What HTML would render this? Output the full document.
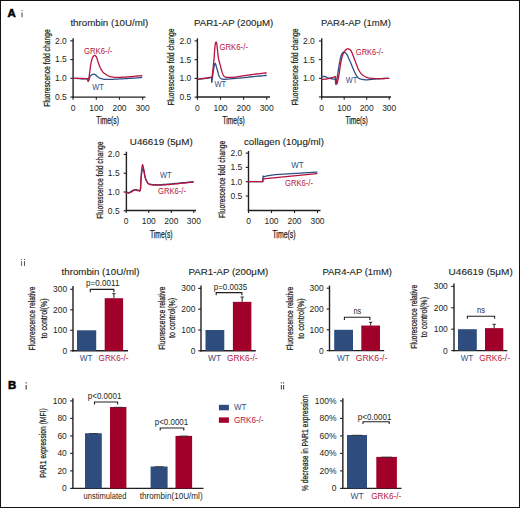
<!DOCTYPE html>
<html><head><meta charset="utf-8"><style>
html,body{margin:0;padding:0;background:#fff;}
svg{display:block;font-family:"Liberation Sans", sans-serif;}
</style></head><body>
<svg width="520" height="508" viewBox="0 0 520 508">
<rect x="0.5" y="0.5" width="519" height="507" fill="#fff" stroke="#111" stroke-width="1"/>
<text x="7.5" y="17.3" font-size="11.4" fill="#000" font-weight="bold" stroke="#000" stroke-width="0.55">A</text>
<rect x="21.4" y="10" width="1.2" height="0.9" fill="#606060"/>
<rect x="21.4" y="12.4" width="1.2" height="4.8" fill="#606060"/>
<rect x="20.95" y="258.9" width="1.1" height="1" fill="#666"/>
<rect x="20.95" y="261.2" width="1.1" height="4.7" fill="#666"/>
<rect x="23.95" y="258.9" width="1.1" height="1" fill="#555"/>
<rect x="23.95" y="261.2" width="1.1" height="4.7" fill="#555"/>
<rect x="25.6" y="382.2" width="1.2" height="1.3" fill="#4a4a4a"/>
<rect x="25.6" y="385" width="1.2" height="4.5" fill="#4a4a4a"/>
<rect x="280.85" y="382.2" width="1.1" height="1.3" fill="#555"/>
<rect x="280.85" y="385" width="1.1" height="4.5" fill="#555"/>
<rect x="283.05" y="382.2" width="1.1" height="1.3" fill="#4a4a4a"/>
<rect x="283.05" y="385" width="1.1" height="4.5" fill="#4a4a4a"/>
<text x="8.1" y="389.2" font-size="11.4" fill="#000" font-weight="bold" stroke="#000" stroke-width="0.55">B</text>
<line x1="73.1" y1="38.3" x2="73.1" y2="97.7" stroke="#231f20" stroke-width="1.4"/>
<line x1="72.4" y1="97.1" x2="145.5" y2="97.1" stroke="#231f20" stroke-width="1.4"/>
<line x1="70.3" y1="40.8" x2="73.1" y2="40.8" stroke="#231f20" stroke-width="1.1"/>
<text transform="translate(66.8,43.7) rotate(0) scale(0.9,1)" font-size="9.4" fill="#231f20" text-anchor="end">2.0</text>
<line x1="70.3" y1="59.55" x2="73.1" y2="59.55" stroke="#231f20" stroke-width="1.1"/>
<text transform="translate(66.8,62.45) rotate(0) scale(0.9,1)" font-size="9.4" fill="#231f20" text-anchor="end">1.5</text>
<line x1="70.3" y1="78.3" x2="73.1" y2="78.3" stroke="#231f20" stroke-width="1.1"/>
<text transform="translate(66.8,81.2) rotate(0) scale(0.9,1)" font-size="9.4" fill="#231f20" text-anchor="end">1.0</text>
<line x1="70.3" y1="97.05" x2="73.1" y2="97.05" stroke="#231f20" stroke-width="1.1"/>
<text transform="translate(66.8,99.95) rotate(0) scale(0.9,1)" font-size="9.4" fill="#231f20" text-anchor="end">0.5</text>
<line x1="73.1" y1="97.1" x2="73.1" y2="99.7" stroke="#231f20" stroke-width="1.1"/>
<text transform="translate(73.1,110.8) rotate(0) scale(0.9,1)" font-size="9.4" fill="#231f20" text-anchor="middle">0</text>
<line x1="96.3" y1="97.1" x2="96.3" y2="99.7" stroke="#231f20" stroke-width="1.1"/>
<text transform="translate(96.3,110.8) rotate(0) scale(0.9,1)" font-size="9.4" fill="#231f20" text-anchor="middle">100</text>
<line x1="119.5" y1="97.1" x2="119.5" y2="99.7" stroke="#231f20" stroke-width="1.1"/>
<text transform="translate(119.5,110.8) rotate(0) scale(0.9,1)" font-size="9.4" fill="#231f20" text-anchor="middle">200</text>
<line x1="142.7" y1="97.1" x2="142.7" y2="99.7" stroke="#231f20" stroke-width="1.1"/>
<text transform="translate(142.7,110.8) rotate(0) scale(0.9,1)" font-size="9.4" fill="#231f20" text-anchor="middle">300</text>
<text x="70.4" y="26.1" font-size="9.7" fill="#231f20" textLength="77.8" lengthAdjust="spacingAndGlyphs" stroke="#231f20" stroke-width="0.12">thrombin (10U/ml)</text>
<text x="96.3" y="124" font-size="10" fill="#231f20" textLength="22.6" lengthAdjust="spacingAndGlyphs" stroke="#231f20" stroke-width="0.25">Time(s)</text>
<text transform="translate(49.8,106.7) rotate(-90)" font-size="9.4" fill="#231f20" textLength="77.4" lengthAdjust="spacingAndGlyphs" stroke="#231f20" stroke-width="0.25">Fluorescence fold change</text>
<polyline points="73.1,78.3 73.61,78.32 74.32,78.34 75.15,78.37 76.05,78.4 76.93,78.44 77.74,78.49 78.47,78.54 79.18,78.61 79.88,78.69 80.58,78.76 81.29,78.82 82.01,78.86 82.79,78.88 83.64,78.89 84.49,78.89 85.3,78.88 86,78.87 86.56,78.86 86.92,78.84 87.14,78.78 87.25,78.72 87.32,78.69 87.38,78.73 87.48,78.86 87.62,79.17 87.76,79.63 87.89,80.16 88.02,80.66 88.16,81.02 88.3,81.15 88.44,81.01 88.6,80.67 88.76,80.19 88.91,79.65 89.07,79.13 89.22,78.67 89.37,78.29 89.5,77.9 89.63,77.53 89.77,77.16 89.92,76.82 90.11,76.5 90.31,76.2 90.54,75.92 90.78,75.66 91.04,75.42 91.31,75.2 91.59,75 91.89,74.81 92.2,74.64 92.53,74.49 92.87,74.36 93.19,74.27 93.49,74.21 93.77,74.19 94.04,74.21 94.29,74.25 94.55,74.33 94.81,74.44 95.09,74.59 95.39,74.78 95.69,75.02 96,75.29 96.32,75.58 96.65,75.88 97,76.16 97.35,76.45 97.72,76.74 98.09,77.04 98.48,77.33 98.88,77.61 99.29,77.85 99.72,78.06 100.15,78.26 100.6,78.43 101.06,78.59 101.53,78.73 102.01,78.86 102.48,78.98 102.94,79.09 103.41,79.19 103.92,79.27 104.47,79.33 105.09,79.39 105.78,79.43 106.51,79.45 107.3,79.46 108.14,79.46 109.03,79.45 109.99,79.42 111.03,79.39 112.16,79.34 113.34,79.28 114.55,79.22 115.76,79.15 116.95,79.09 118.11,79.03 119.27,78.97 120.43,78.9 121.59,78.84 122.75,78.78 123.91,78.71 125.07,78.65 126.24,78.58 127.4,78.51 128.57,78.44 129.72,78.37 130.87,78.3 132.03,78.23 133.22,78.17 134.41,78.1 135.55,78.03 136.63,77.96 137.6,77.89 138.49,77.8 139.33,77.71 140.1,77.62 140.78,77.53 141.35,77.45 141.77,77.4" fill="none" stroke="#2f4f87" stroke-width="1.3" stroke-linejoin="round" stroke-linecap="round"/>
<polyline points="73.1,78.3 73.61,78.3 74.32,78.29 75.15,78.29 76.05,78.29 76.93,78.29 77.74,78.3 78.47,78.32 79.18,78.35 79.88,78.38 80.58,78.42 81.28,78.45 82.01,78.49 82.8,78.52 83.65,78.55 84.52,78.58 85.33,78.61 86.05,78.64 86.6,78.67 86.96,78.68 87.17,78.66 87.28,78.64 87.33,78.64 87.38,78.71 87.48,78.86 87.62,79.22 87.75,79.77 87.88,80.38 88.01,80.9 88.15,81.21 88.3,81.15 88.45,80.66 88.62,79.85 88.79,78.81 88.97,77.66 89.14,76.49 89.29,75.41 89.44,74.39 89.58,73.34 89.72,72.28 89.85,71.22 89.98,70.18 90.11,69.19 90.23,68.23 90.34,67.3 90.46,66.39 90.57,65.5 90.7,64.63 90.85,63.79 91.02,62.95 91.2,62.12 91.4,61.31 91.61,60.54 91.81,59.82 92.01,59.17 92.2,58.6 92.38,58.09 92.56,57.64 92.75,57.23 92.94,56.87 93.14,56.55 93.36,56.26 93.58,56.02 93.8,55.82 94.03,55.66 94.26,55.56 94.49,55.5 94.72,55.49 94.95,55.54 95.19,55.63 95.42,55.76 95.64,55.95 95.86,56.17 96.06,56.45 96.25,56.77 96.44,57.14 96.62,57.56 96.81,58.01 97,58.5 97.19,59.05 97.38,59.68 97.58,60.34 97.77,61.02 97.96,61.68 98.16,62.29 98.34,62.84 98.52,63.36 98.7,63.86 98.88,64.36 99.08,64.87 99.29,65.4 99.52,65.96 99.77,66.54 100.02,67.13 100.28,67.72 100.56,68.29 100.85,68.85 101.15,69.39 101.45,69.93 101.78,70.46 102.11,70.97 102.45,71.45 102.8,71.89 103.15,72.28 103.51,72.62 103.88,72.93 104.26,73.23 104.66,73.53 105.09,73.84 105.56,74.17 106.05,74.52 106.56,74.87 107.09,75.21 107.62,75.52 108.13,75.79 108.61,76.02 109.05,76.21 109.49,76.38 109.97,76.53 110.53,76.67 111.19,76.8 111.98,76.93 112.87,77.06 113.83,77.18 114.84,77.28 115.89,77.36 116.95,77.4 118.04,77.4 119.18,77.37 120.35,77.31 121.54,77.24 122.73,77.17 123.91,77.1 125.07,77.04 126.24,76.98 127.4,76.92 128.57,76.85 129.72,76.77 130.87,76.69 132.03,76.59 133.22,76.47 134.41,76.34 135.55,76.22 136.63,76.11 137.6,76.01 138.49,75.94 139.33,75.87 140.1,75.82 140.78,75.78 141.35,75.74 141.77,75.71" fill="none" stroke="#b5123d" stroke-width="1.3" stroke-linejoin="round" stroke-linecap="round"/>
<text x="84" y="54.4" font-size="8.2" fill="#b5123d" textLength="28.4" lengthAdjust="spacingAndGlyphs">GRK6-/-</text>
<text x="92.3" y="90" font-size="8.2" fill="#2f4f87" textLength="11.6" lengthAdjust="spacingAndGlyphs">WT</text>
<line x1="197.4" y1="38.3" x2="197.4" y2="97.65" stroke="#231f20" stroke-width="1.4"/>
<line x1="196.7" y1="97.05" x2="270" y2="97.05" stroke="#231f20" stroke-width="1.4"/>
<line x1="194.6" y1="40.9" x2="197.4" y2="40.9" stroke="#231f20" stroke-width="1.1"/>
<text transform="translate(191.3,43.8) rotate(0) scale(0.9,1)" font-size="9.4" fill="#231f20" text-anchor="end">2.0</text>
<line x1="194.6" y1="59.65" x2="197.4" y2="59.65" stroke="#231f20" stroke-width="1.1"/>
<text transform="translate(191.3,62.55) rotate(0) scale(0.9,1)" font-size="9.4" fill="#231f20" text-anchor="end">1.5</text>
<line x1="194.6" y1="78.4" x2="197.4" y2="78.4" stroke="#231f20" stroke-width="1.1"/>
<text transform="translate(191.3,81.3) rotate(0) scale(0.9,1)" font-size="9.4" fill="#231f20" text-anchor="end">1.0</text>
<line x1="194.6" y1="97.15" x2="197.4" y2="97.15" stroke="#231f20" stroke-width="1.1"/>
<text transform="translate(191.3,100.05) rotate(0) scale(0.9,1)" font-size="9.4" fill="#231f20" text-anchor="end">0.5</text>
<line x1="197.4" y1="97.05" x2="197.4" y2="99.65" stroke="#231f20" stroke-width="1.1"/>
<text transform="translate(197.4,110.75) rotate(0) scale(0.9,1)" font-size="9.4" fill="#231f20" text-anchor="middle">0</text>
<line x1="220.5" y1="97.05" x2="220.5" y2="99.65" stroke="#231f20" stroke-width="1.1"/>
<text transform="translate(220.5,110.75) rotate(0) scale(0.9,1)" font-size="9.4" fill="#231f20" text-anchor="middle">100</text>
<line x1="243.6" y1="97.05" x2="243.6" y2="99.65" stroke="#231f20" stroke-width="1.1"/>
<text transform="translate(243.6,110.75) rotate(0) scale(0.9,1)" font-size="9.4" fill="#231f20" text-anchor="middle">200</text>
<line x1="266.7" y1="97.05" x2="266.7" y2="99.65" stroke="#231f20" stroke-width="1.1"/>
<text transform="translate(266.7,110.75) rotate(0) scale(0.9,1)" font-size="9.4" fill="#231f20" text-anchor="middle">300</text>
<text x="194" y="25.9" font-size="9.7" fill="#231f20" textLength="79.2" lengthAdjust="spacingAndGlyphs" stroke="#231f20" stroke-width="0.12">PAR1-AP (200μM)</text>
<text x="222.4" y="124" font-size="10" fill="#231f20" textLength="22.4" lengthAdjust="spacingAndGlyphs" stroke="#231f20" stroke-width="0.25">Time(s)</text>
<text transform="translate(173.6,105.6) rotate(-90)" font-size="9.4" fill="#231f20" textLength="77.2" lengthAdjust="spacingAndGlyphs" stroke="#231f20" stroke-width="0.25">Fluorescence fold change</text>
<polyline points="197.4,79.34 197.75,79.3 198.24,79.24 198.82,79.17 199.44,79.1 200.06,79.03 200.63,78.96 201.15,78.9 201.64,78.84 202.13,78.79 202.63,78.73 203.18,78.66 203.8,78.59 204.51,78.5 205.31,78.41 206.16,78.3 207,78.2 207.79,78.11 208.49,78.03 209.11,77.9 209.68,77.71 210.21,77.53 210.68,77.42 211.08,77.45 211.4,77.69 211.6,78.33 211.69,79.35 211.71,80.51 211.71,81.58 211.72,82.29 211.79,82.41 211.92,81.83 212.08,80.7 212.26,79.23 212.45,77.6 212.63,76.01 212.81,74.65 212.98,73.47 213.15,72.31 213.32,71.19 213.48,70.12 213.65,69.12 213.8,68.2 213.95,67.35 214.1,66.55 214.24,65.82 214.37,65.17 214.5,64.61 214.61,64.15 214.71,63.81 214.79,63.59 214.86,63.45 214.93,63.39 215.01,63.38 215.09,63.4 215.19,63.46 215.3,63.56 215.41,63.72 215.52,63.93 215.64,64.2 215.76,64.53 215.9,64.93 216.03,65.42 216.18,65.97 216.33,66.55 216.48,67.14 216.64,67.71 216.81,68.28 216.99,68.87 217.17,69.47 217.35,70.07 217.53,70.67 217.7,71.28 217.87,71.89 218.03,72.52 218.19,73.16 218.35,73.78 218.52,74.37 218.7,74.91 218.89,75.41 219.09,75.88 219.29,76.32 219.51,76.73 219.74,77.11 219.99,77.46 220.24,77.79 220.49,78.1 220.75,78.37 221.04,78.62 221.39,78.83 221.79,79 222.23,79.13 222.66,79.22 223.14,79.27 223.72,79.3 224.44,79.29 225.35,79.26 226.5,79.2 227.85,79.08 229.35,78.95 230.92,78.79 232.49,78.64 233.99,78.51 235.46,78.4 236.95,78.29 238.44,78.18 239.91,78.07 241.33,77.96 242.68,77.84 243.93,77.71 245.12,77.57 246.25,77.43 247.36,77.28 248.47,77.15 249.61,77.01 250.73,76.89 251.81,76.77 252.9,76.66 254.02,76.55 255.22,76.43 256.54,76.3 258.1,76.15 259.92,75.98 261.82,75.81 263.62,75.64 265.15,75.5 266.24,75.4" fill="none" stroke="#2f4f87" stroke-width="1.3" stroke-linejoin="round" stroke-linecap="round"/>
<polyline points="197.4,79.15 197.75,79.11 198.24,79.05 198.82,78.98 199.44,78.91 200.06,78.84 200.63,78.78 201.15,78.72 201.64,78.68 202.13,78.63 202.63,78.58 203.18,78.52 203.8,78.44 204.51,78.33 205.31,78.21 206.16,78.07 207,77.93 207.79,77.8 208.49,77.69 209.1,77.59 209.67,77.51 210.19,77.44 210.66,77.37 211.06,77.29 211.4,77.2 211.64,77.16 211.79,77.17 211.87,77.18 211.92,77.12 211.98,76.93 212.07,76.53 212.19,75.9 212.31,75.1 212.43,74.16 212.56,73.13 212.68,72.03 212.81,70.9 212.94,69.68 213.08,68.34 213.21,66.93 213.35,65.52 213.48,64.2 213.59,63.03 213.69,62.1 213.77,61.38 213.84,60.74 213.92,60.05 214,59.18 214.1,58 214.22,56.38 214.36,54.39 214.51,52.22 214.66,50.06 214.81,48.1 214.96,46.53 215.1,45.33 215.24,44.35 215.38,43.58 215.52,42.98 215.66,42.55 215.81,42.25 215.97,42.1 216.13,42.12 216.29,42.3 216.45,42.63 216.61,43.11 216.76,43.71 216.89,44.5 217.01,45.48 217.13,46.6 217.25,47.81 217.37,49.05 217.5,50.28 217.63,51.53 217.77,52.86 217.91,54.23 218.06,55.58 218.22,56.85 218.4,58 218.59,59 218.8,59.89 219.02,60.71 219.24,61.5 219.47,62.28 219.69,63.1 219.91,63.96 220.13,64.82 220.35,65.68 220.57,66.54 220.79,67.38 221.01,68.2 221.22,69.01 221.43,69.83 221.64,70.63 221.86,71.41 222.07,72.14 222.3,72.81 222.53,73.43 222.76,74.02 223,74.56 223.25,75.05 223.52,75.49 223.8,75.89 224.1,76.22 224.41,76.49 224.73,76.72 225.08,76.91 225.47,77.06 225.91,77.2 226.39,77.31 226.92,77.38 227.49,77.43 228.1,77.45 228.73,77.46 229.39,77.46 230.05,77.46 230.69,77.45 231.37,77.43 232.11,77.38 232.97,77.31 233.99,77.2 235.22,77.04 236.65,76.83 238.19,76.59 239.76,76.34 241.28,76.1 242.68,75.89 243.93,75.7 245.12,75.53 246.25,75.37 247.36,75.22 248.47,75.07 249.61,74.91 250.73,74.76 251.81,74.62 252.9,74.47 254.02,74.33 255.22,74.17 256.54,74.01 258.1,73.83 259.92,73.61 261.82,73.39 263.62,73.19 265.15,73.01 266.24,72.89" fill="none" stroke="#b5123d" stroke-width="1.3" stroke-linejoin="round" stroke-linecap="round"/>
<text x="219.4" y="50.2" font-size="8.2" fill="#b5123d" textLength="28.6" lengthAdjust="spacingAndGlyphs">GRK6-/-</text>
<text x="214.5" y="86.5" font-size="8.2" fill="#2f4f87" textLength="11.6" lengthAdjust="spacingAndGlyphs">WT</text>
<line x1="321.7" y1="38.3" x2="321.7" y2="97.65" stroke="#231f20" stroke-width="1.4"/>
<line x1="321" y1="97.05" x2="391" y2="97.05" stroke="#231f20" stroke-width="1.4"/>
<line x1="318.9" y1="41" x2="321.7" y2="41" stroke="#231f20" stroke-width="1.1"/>
<text transform="translate(314.8,43.9) rotate(0) scale(0.9,1)" font-size="9.4" fill="#231f20" text-anchor="end">2.0</text>
<line x1="318.9" y1="59.65" x2="321.7" y2="59.65" stroke="#231f20" stroke-width="1.1"/>
<text transform="translate(314.8,62.55) rotate(0) scale(0.9,1)" font-size="9.4" fill="#231f20" text-anchor="end">1.5</text>
<line x1="318.9" y1="78.3" x2="321.7" y2="78.3" stroke="#231f20" stroke-width="1.1"/>
<text transform="translate(314.8,81.2) rotate(0) scale(0.9,1)" font-size="9.4" fill="#231f20" text-anchor="end">1.0</text>
<line x1="318.9" y1="96.95" x2="321.7" y2="96.95" stroke="#231f20" stroke-width="1.1"/>
<line x1="321.7" y1="97.05" x2="321.7" y2="99.65" stroke="#231f20" stroke-width="1.1"/>
<text transform="translate(321.7,110.75) rotate(0) scale(0.9,1)" font-size="9.4" fill="#231f20" text-anchor="middle">0</text>
<line x1="344.2" y1="97.05" x2="344.2" y2="99.65" stroke="#231f20" stroke-width="1.1"/>
<text transform="translate(344.2,110.75) rotate(0) scale(0.9,1)" font-size="9.4" fill="#231f20" text-anchor="middle">100</text>
<line x1="366.7" y1="97.05" x2="366.7" y2="99.65" stroke="#231f20" stroke-width="1.1"/>
<text transform="translate(366.7,110.75) rotate(0) scale(0.9,1)" font-size="9.4" fill="#231f20" text-anchor="middle">200</text>
<line x1="389.2" y1="97.05" x2="389.2" y2="99.65" stroke="#231f20" stroke-width="1.1"/>
<text transform="translate(389.2,110.75) rotate(0) scale(0.9,1)" font-size="9.4" fill="#231f20" text-anchor="middle">300</text>
<text x="321" y="25.9" font-size="9.7" fill="#231f20" textLength="69.8" lengthAdjust="spacingAndGlyphs" stroke="#231f20" stroke-width="0.12">PAR4-AP (1mM)</text>
<text x="345.4" y="124" font-size="10" fill="#231f20" textLength="22.4" lengthAdjust="spacingAndGlyphs" stroke="#231f20" stroke-width="0.25">Time(s)</text>
<text transform="translate(297.9,105.6) rotate(-90)" font-size="9.4" fill="#231f20" textLength="77.2" lengthAdjust="spacingAndGlyphs" stroke="#231f20" stroke-width="0.25">Fluorescence fold change</text>
<polyline points="321.7,77.18 321.99,77.08 322.39,76.92 322.87,76.74 323.38,76.57 323.91,76.46 324.4,76.44 324.86,76.51 325.3,76.66 325.75,76.87 326.22,77.1 326.74,77.34 327.32,77.55 328,77.77 328.77,78.02 329.58,78.27 330.39,78.5 331.15,78.7 331.82,78.86 332.42,78.96 332.97,79.01 333.48,79.03 333.93,79.04 334.32,79.04 334.64,79.05 334.86,78.99 334.99,78.85 335.05,78.71 335.08,78.64 335.12,78.72 335.2,79.05 335.31,79.77 335.43,80.87 335.55,82.12 335.68,83.31 335.81,84.23 335.94,84.64 336.07,84.49 336.21,83.95 336.35,83.12 336.49,82.13 336.63,81.11 336.77,80.16 336.92,79.3 337.07,78.42 337.22,77.5 337.37,76.52 337.54,75.46 337.72,74.31 337.91,73.02 338.11,71.62 338.33,70.13 338.55,68.61 338.78,67.09 339.02,65.62 339.28,64.13 339.56,62.58 339.84,61.03 340.14,59.55 340.43,58.2 340.71,57.04 340.99,56.08 341.27,55.27 341.55,54.58 341.83,54.01 342.11,53.51 342.4,53.09 342.68,52.72 342.96,52.44 343.24,52.25 343.54,52.14 343.85,52.12 344.2,52.19 344.59,52.35 345.01,52.59 345.45,52.93 345.9,53.34 346.35,53.85 346.79,54.43 347.21,55.12 347.62,55.92 348.04,56.81 348.45,57.74 348.87,58.7 349.28,59.65 349.71,60.6 350.13,61.58 350.56,62.58 350.99,63.59 351.42,64.61 351.85,65.62 352.28,66.64 352.72,67.68 353.15,68.73 353.59,69.76 354.03,70.76 354.46,71.7 354.89,72.6 355.32,73.49 355.74,74.35 356.17,75.15 356.6,75.88 357.02,76.51 357.45,77.04 357.86,77.48 358.27,77.84 358.7,78.15 359.15,78.42 359.63,78.67 360.16,78.89 360.72,79.06 361.31,79.19 361.91,79.3 362.51,79.4 363.1,79.49 363.68,79.6 364.27,79.69 364.86,79.78 365.45,79.84 366.03,79.89 366.61,79.9 367.13,79.89 367.57,79.84 368.02,79.76 368.52,79.68 369.16,79.58 369.99,79.49 371.01,79.4 372.19,79.3 373.5,79.19 374.91,79.07 376.41,78.96 377.95,78.86 379.71,78.76 381.74,78.65 383.85,78.54 385.84,78.44 387.54,78.36 388.75,78.3" fill="none" stroke="#2f4f87" stroke-width="1.3" stroke-linejoin="round" stroke-linecap="round"/>
<polyline points="321.7,79.42 322.32,79.37 323.17,79.3 324.19,79.22 325.27,79.12 326.35,79 327.32,78.86 328.24,78.68 329.18,78.46 330.11,78.22 330.99,77.98 331.8,77.75 332.5,77.55 333.09,77.38 333.6,77.22 334.03,77.08 334.39,76.95 334.7,76.86 334.97,76.81 335.17,76.73 335.28,76.62 335.33,76.54 335.37,76.56 335.43,76.75 335.54,77.18 335.71,78.03 335.9,79.27 336.12,80.69 336.35,82.05 336.57,83.13 336.77,83.71 336.97,83.73 337.16,83.36 337.34,82.71 337.53,81.89 337.71,81.01 337.9,80.16 338.09,79.36 338.27,78.49 338.45,77.56 338.64,76.56 338.83,75.48 339.02,74.31 339.23,73 339.44,71.56 339.65,70.03 339.87,68.49 340.09,67 340.31,65.62 340.52,64.34 340.73,63.12 340.93,61.95 341.15,60.83 341.37,59.75 341.61,58.72 341.87,57.73 342.13,56.78 342.4,55.89 342.69,55.04 342.98,54.24 343.3,53.5 343.63,52.8 343.99,52.15 344.35,51.55 344.73,51.01 345.12,50.52 345.5,50.1 345.89,49.73 346.29,49.4 346.69,49.13 347.1,48.93 347.53,48.83 347.98,48.83 348.46,48.94 348.98,49.12 349.51,49.39 350.05,49.77 350.57,50.27 351.06,50.88 351.52,51.66 351.96,52.61 352.39,53.66 352.81,54.78 353.22,55.92 353.65,57.04 354.08,58.15 354.51,59.3 354.94,60.47 355.37,61.64 355.81,62.79 356.24,63.9 356.66,64.99 357.07,66.08 357.48,67.14 357.9,68.17 358.35,69.16 358.82,70.09 359.33,70.97 359.85,71.82 360.4,72.61 360.97,73.36 361.57,74.05 362.2,74.68 362.89,75.25 363.63,75.76 364.41,76.22 365.18,76.62 365.92,76.98 366.61,77.29 367.18,77.55 367.64,77.73 368.08,77.87 368.56,77.98 369.17,78.08 369.99,78.19 371.01,78.3 372.19,78.41 373.5,78.51 374.91,78.59 376.41,78.65 377.95,78.67 379.71,78.66 381.74,78.6 383.85,78.52 385.84,78.43 387.54,78.35 388.75,78.3" fill="none" stroke="#b5123d" stroke-width="1.3" stroke-linejoin="round" stroke-linecap="round"/>
<text x="355.8" y="55.1" font-size="8.2" fill="#b5123d" textLength="27.6" lengthAdjust="spacingAndGlyphs">GRK6-/-</text>
<text x="345.8" y="83" font-size="8.2" fill="#2f4f87" textLength="11.4" lengthAdjust="spacingAndGlyphs">WT</text>
<line x1="126.4" y1="151.7" x2="126.4" y2="211.05" stroke="#231f20" stroke-width="1.4"/>
<line x1="125.7" y1="210.45" x2="196" y2="210.45" stroke="#231f20" stroke-width="1.4"/>
<line x1="123.6" y1="154.5" x2="126.4" y2="154.5" stroke="#231f20" stroke-width="1.1"/>
<text transform="translate(119.6,157.4) rotate(0) scale(0.9,1)" font-size="9.4" fill="#231f20" text-anchor="end">2.0</text>
<line x1="123.6" y1="173.25" x2="126.4" y2="173.25" stroke="#231f20" stroke-width="1.1"/>
<text transform="translate(119.6,176.15) rotate(0) scale(0.9,1)" font-size="9.4" fill="#231f20" text-anchor="end">1.5</text>
<line x1="123.6" y1="192" x2="126.4" y2="192" stroke="#231f20" stroke-width="1.1"/>
<text transform="translate(119.6,194.9) rotate(0) scale(0.9,1)" font-size="9.4" fill="#231f20" text-anchor="end">1.0</text>
<line x1="123.6" y1="210.75" x2="126.4" y2="210.75" stroke="#231f20" stroke-width="1.1"/>
<text transform="translate(119.6,213.65) rotate(0) scale(0.9,1)" font-size="9.4" fill="#231f20" text-anchor="end">0.5</text>
<line x1="126.2" y1="210.45" x2="126.2" y2="213.05" stroke="#231f20" stroke-width="1.1"/>
<text transform="translate(126.2,224.15) rotate(0) scale(0.9,1)" font-size="9.4" fill="#231f20" text-anchor="middle">0</text>
<line x1="148.75" y1="210.45" x2="148.75" y2="213.05" stroke="#231f20" stroke-width="1.1"/>
<text transform="translate(148.75,224.15) rotate(0) scale(0.9,1)" font-size="9.4" fill="#231f20" text-anchor="middle">100</text>
<line x1="171.3" y1="210.45" x2="171.3" y2="213.05" stroke="#231f20" stroke-width="1.1"/>
<text transform="translate(171.3,224.15) rotate(0) scale(0.9,1)" font-size="9.4" fill="#231f20" text-anchor="middle">200</text>
<line x1="193.85" y1="210.45" x2="193.85" y2="213.05" stroke="#231f20" stroke-width="1.1"/>
<text transform="translate(193.85,224.15) rotate(0) scale(0.9,1)" font-size="9.4" fill="#231f20" text-anchor="middle">300</text>
<text x="129.8" y="144.9" font-size="9.7" fill="#231f20" textLength="62.9" lengthAdjust="spacingAndGlyphs" stroke="#231f20" stroke-width="0.12">U46619 (5μM)</text>
<text x="150" y="237.6" font-size="10" fill="#231f20" textLength="22.6" lengthAdjust="spacingAndGlyphs" stroke="#231f20" stroke-width="0.25">Time(s)</text>
<text transform="translate(102.7,218.8) rotate(-90)" font-size="9.4" fill="#231f20" textLength="77.2" lengthAdjust="spacingAndGlyphs" stroke="#231f20" stroke-width="0.25">Fluorescence fold change</text>
<polyline points="126.2,192.11 126.27,192.12 126.35,192.12 126.45,192.13 126.58,192.14 126.74,192.16 126.94,192.19 127.19,192.25 127.48,192.35 127.81,192.45 128.16,192.54 128.52,192.59 128.88,192.56 129.26,192.46 129.66,192.3 130.06,192.09 130.48,191.86 130.89,191.62 131.3,191.4 131.69,191.17 132.08,190.92 132.47,190.66 132.86,190.41 133.25,190.19 133.64,190.01 134.03,189.88 134.42,189.78 134.81,189.7 135.2,189.65 135.59,189.63 135.99,189.64 136.39,189.69 136.8,189.8 137.21,189.93 137.62,190.07 138.01,190.18 138.38,190.24 138.74,190.32 139.09,190.46 139.44,190.58 139.76,190.59 140.04,190.4 140.27,189.94 140.44,189.13 140.56,188.03 140.64,186.73 140.71,185.34 140.77,183.94 140.86,182.62 140.95,181.37 141.04,180.09 141.13,178.8 141.23,177.53 141.34,176.3 141.47,175.12 141.61,173.93 141.77,172.68 141.94,171.48 142.12,170.4 142.31,169.55 142.5,169.01 142.71,168.83 142.94,168.93 143.17,169.26 143.41,169.75 143.64,170.35 143.86,171 144.06,171.77 144.25,172.72 144.44,173.78 144.63,174.87 144.83,175.9 145.05,176.81 145.29,177.6 145.53,178.33 145.78,179.02 146.05,179.65 146.32,180.26 146.61,180.82 146.89,181.37 147.18,181.88 147.48,182.35 147.8,182.78 148.15,183.16 148.55,183.49 148.99,183.75 149.47,183.95 149.99,184.11 150.53,184.23 151.1,184.33 151.68,184.43 152.29,184.51 152.92,184.56 153.57,184.59 154.24,184.61 154.93,184.63 155.63,184.65 156.27,184.68 156.84,184.72 157.42,184.76 158.1,184.78 158.97,184.77 160.12,184.72 161.59,184.64 163.34,184.52 165.28,184.37 167.32,184.2 169.35,184.03 171.3,183.86 173.18,183.69 175.08,183.5 176.97,183.31 178.86,183.11 180.73,182.92 182.57,182.74 184.5,182.55 186.55,182.35 188.58,182.16 190.45,181.98 192.03,181.83 193.17,181.72" fill="none" stroke="#2f4f87" stroke-width="1.3" stroke-linejoin="round" stroke-linecap="round"/>
<polyline points="126.2,192.56 126.27,192.57 126.35,192.57 126.45,192.58 126.58,192.59 126.74,192.61 126.94,192.64 127.19,192.7 127.48,192.8 127.81,192.9 128.16,192.99 128.52,193.04 128.88,193.01 129.26,192.91 129.66,192.75 130.06,192.54 130.48,192.31 130.89,192.07 131.3,191.85 131.69,191.62 132.08,191.37 132.47,191.11 132.86,190.86 133.25,190.64 133.64,190.46 134.03,190.33 134.42,190.23 134.81,190.15 135.2,190.1 135.59,190.08 135.99,190.09 136.39,190.14 136.8,190.25 137.21,190.39 137.62,190.52 138.01,190.63 138.38,190.69 138.74,190.78 139.09,190.94 139.44,191.08 139.76,191.09 140.04,190.87 140.27,190.31 140.44,189.35 140.56,188.06 140.64,186.53 140.71,184.87 140.77,183.2 140.86,181.61 140.95,180.06 141.04,178.46 141.13,176.83 141.23,175.22 141.34,173.67 141.47,172.2 141.61,170.69 141.77,169.09 141.94,167.54 142.12,166.2 142.31,165.2 142.5,164.7 142.71,164.8 142.94,165.39 143.17,166.34 143.41,167.49 143.64,168.69 143.86,169.8 144.06,170.9 144.25,172.12 144.44,173.39 144.63,174.66 144.83,175.84 145.05,176.89 145.29,177.79 145.53,178.59 145.78,179.32 146.05,179.98 146.32,180.6 146.61,181.2 146.89,181.77 147.18,182.3 147.48,182.78 147.8,183.22 148.15,183.6 148.55,183.94 148.99,184.21 149.47,184.41 149.99,184.56 150.53,184.68 151.1,184.78 151.68,184.88 152.29,184.96 152.92,185.01 153.57,185.04 154.24,185.06 154.93,185.08 155.63,185.1 156.27,185.13 156.84,185.17 157.42,185.21 158.1,185.22 158.97,185.22 160.12,185.18 161.59,185.09 163.34,184.97 165.28,184.82 167.32,184.65 169.35,184.48 171.3,184.31 173.18,184.14 175.08,183.95 176.97,183.76 178.86,183.56 180.73,183.37 182.57,183.19 184.5,183 186.55,182.8 188.58,182.61 190.45,182.43 192.03,182.28 193.17,182.18" fill="none" stroke="#b5123d" stroke-width="1.3" stroke-linejoin="round" stroke-linecap="round"/>
<text x="158" y="193.6" font-size="8.2" fill="#b5123d" textLength="28" lengthAdjust="spacingAndGlyphs">GRK6-/-</text>
<text x="160" y="178.2" font-size="8.2" fill="#2f4f87" textLength="11.6" lengthAdjust="spacingAndGlyphs">WT</text>
<line x1="248.5" y1="151" x2="248.5" y2="211.05" stroke="#231f20" stroke-width="1.4"/>
<line x1="247.8" y1="210.45" x2="320.5" y2="210.45" stroke="#231f20" stroke-width="1.4"/>
<line x1="245.7" y1="153.1" x2="248.5" y2="153.1" stroke="#231f20" stroke-width="1.1"/>
<text transform="translate(242.2,156) rotate(0) scale(0.9,1)" font-size="9.4" fill="#231f20" text-anchor="end">2.0</text>
<line x1="245.7" y1="167.4" x2="248.5" y2="167.4" stroke="#231f20" stroke-width="1.1"/>
<text transform="translate(242.2,170.3) rotate(0) scale(0.9,1)" font-size="9.4" fill="#231f20" text-anchor="end">1.5</text>
<line x1="245.7" y1="181.7" x2="248.5" y2="181.7" stroke="#231f20" stroke-width="1.1"/>
<text transform="translate(242.2,184.6) rotate(0) scale(0.9,1)" font-size="9.4" fill="#231f20" text-anchor="end">1.0</text>
<line x1="245.7" y1="196" x2="248.5" y2="196" stroke="#231f20" stroke-width="1.1"/>
<text transform="translate(242.2,198.9) rotate(0) scale(0.9,1)" font-size="9.4" fill="#231f20" text-anchor="end">0.5</text>
<line x1="248.5" y1="210.45" x2="248.5" y2="213.05" stroke="#231f20" stroke-width="1.1"/>
<text transform="translate(248.5,224.15) rotate(0) scale(0.9,1)" font-size="9.4" fill="#231f20" text-anchor="middle">0</text>
<line x1="271.5" y1="210.45" x2="271.5" y2="213.05" stroke="#231f20" stroke-width="1.1"/>
<text transform="translate(271.5,224.15) rotate(0) scale(0.9,1)" font-size="9.4" fill="#231f20" text-anchor="middle">100</text>
<line x1="294.5" y1="210.45" x2="294.5" y2="213.05" stroke="#231f20" stroke-width="1.1"/>
<text transform="translate(294.5,224.15) rotate(0) scale(0.9,1)" font-size="9.4" fill="#231f20" text-anchor="middle">200</text>
<line x1="317.5" y1="210.45" x2="317.5" y2="213.05" stroke="#231f20" stroke-width="1.1"/>
<text transform="translate(317.5,224.15) rotate(0) scale(0.9,1)" font-size="9.4" fill="#231f20" text-anchor="middle">300</text>
<text x="244" y="144.7" font-size="9.7" fill="#231f20" textLength="80" lengthAdjust="spacingAndGlyphs" stroke="#231f20" stroke-width="0.12">collagen (10μg/ml)</text>
<text x="272.4" y="237.6" font-size="10" fill="#231f20" textLength="23.2" lengthAdjust="spacingAndGlyphs" stroke="#231f20" stroke-width="0.25">Time(s)</text>
<text transform="translate(224.6,217.9) rotate(-90)" font-size="9.4" fill="#231f20" textLength="77.2" lengthAdjust="spacingAndGlyphs" stroke="#231f20" stroke-width="0.25">Fluorescence fold change</text>
<polyline points="248.5,181.7 262.76,181.7 263.04,175.98 263.45,176.84 266.9,175.98 275.3,174.69 316.81,172.2" fill="none" stroke="#2f4f87" stroke-width="1.3" stroke-linejoin="round" stroke-linecap="round"/>
<polyline points="248.5,181.7 262.76,181.7 263.11,178.84 316.81,173.69" fill="none" stroke="#b5123d" stroke-width="1.3" stroke-linejoin="round" stroke-linecap="round"/>
<text x="285" y="185.6" font-size="8.2" fill="#b5123d" textLength="28" lengthAdjust="spacingAndGlyphs">GRK6-/-</text>
<text x="291.3" y="167.5" font-size="8.2" fill="#2f4f87" textLength="12.4" lengthAdjust="spacingAndGlyphs">WT</text>
<line x1="73" y1="286" x2="73" y2="351.4" stroke="#231f20" stroke-width="1.4"/>
<line x1="72.3" y1="350.8" x2="128" y2="350.8" stroke="#231f20" stroke-width="1.4"/>
<line x1="70.2" y1="350.8" x2="73" y2="350.8" stroke="#231f20" stroke-width="1.1"/>
<text transform="translate(67.2,353.7) rotate(0) scale(0.9,1)" font-size="9.4" fill="#231f20" text-anchor="end">0</text>
<line x1="70.2" y1="330.3" x2="73" y2="330.3" stroke="#231f20" stroke-width="1.1"/>
<text transform="translate(67.2,333.2) rotate(0) scale(0.9,1)" font-size="9.4" fill="#231f20" text-anchor="end">100</text>
<line x1="70.2" y1="309.8" x2="73" y2="309.8" stroke="#231f20" stroke-width="1.1"/>
<text transform="translate(67.2,312.7) rotate(0) scale(0.9,1)" font-size="9.4" fill="#231f20" text-anchor="end">200</text>
<line x1="70.2" y1="289.3" x2="73" y2="289.3" stroke="#231f20" stroke-width="1.1"/>
<text transform="translate(67.2,292.2) rotate(0) scale(0.9,1)" font-size="9.4" fill="#231f20" text-anchor="end">300</text>
<rect x="77" y="330.3" width="19.2" height="20.5" fill="#2e4c7e"/>
<rect x="104.7" y="298.2" width="18.4" height="52.6" fill="#a1002a"/>
<line x1="113.9" y1="298.2" x2="113.9" y2="293.69" stroke="#231f20" stroke-width="1"/>
<line x1="112.3" y1="293.69" x2="115.5" y2="293.69" stroke="#231f20" stroke-width="1"/>
<polyline points="90.3,292.2 90.3,289.4 113.9,289.4 113.9,292.2" fill="none" stroke="#231f20" stroke-width="1.1"/>
<text x="86" y="286.2" font-size="8.8" fill="#231f20" textLength="33.4" lengthAdjust="spacingAndGlyphs">p=0.0011</text>
<text x="61.6" y="274.9" font-size="9.7" fill="#231f20" textLength="77.8" lengthAdjust="spacingAndGlyphs" stroke="#231f20" stroke-width="0.12">thrombin (10U/ml)</text>
<text x="79.8" y="360.6" font-size="8.6" fill="#2f4f87" textLength="12.8" lengthAdjust="spacingAndGlyphs">WT</text>
<text x="98.6" y="360.6" font-size="8.6" fill="#b5123d" textLength="29.8" lengthAdjust="spacingAndGlyphs">GRK6-/-</text>
<text transform="translate(35.1,350.4) rotate(-90)" font-size="9.4" fill="#231f20" textLength="63.8" lengthAdjust="spacingAndGlyphs" stroke="#231f20" stroke-width="0.25">Fluorescence relative</text>
<text transform="translate(46.5,338.4) rotate(-90)" font-size="8.9" fill="#231f20" textLength="40" lengthAdjust="spacingAndGlyphs" stroke="#231f20" stroke-width="0.25">to control(%)</text>
<line x1="201" y1="285.5" x2="201" y2="351.4" stroke="#231f20" stroke-width="1.4"/>
<line x1="200.3" y1="350.8" x2="255.8" y2="350.8" stroke="#231f20" stroke-width="1.4"/>
<line x1="198.2" y1="350.8" x2="201" y2="350.8" stroke="#231f20" stroke-width="1.1"/>
<text transform="translate(195.4,353.7) rotate(0) scale(0.9,1)" font-size="9.4" fill="#231f20" text-anchor="end">0</text>
<line x1="198.2" y1="330" x2="201" y2="330" stroke="#231f20" stroke-width="1.1"/>
<text transform="translate(195.4,332.9) rotate(0) scale(0.9,1)" font-size="9.4" fill="#231f20" text-anchor="end">100</text>
<line x1="198.2" y1="309.2" x2="201" y2="309.2" stroke="#231f20" stroke-width="1.1"/>
<text transform="translate(195.4,312.1) rotate(0) scale(0.9,1)" font-size="9.4" fill="#231f20" text-anchor="end">200</text>
<line x1="198.2" y1="288.4" x2="201" y2="288.4" stroke="#231f20" stroke-width="1.1"/>
<text transform="translate(195.4,291.3) rotate(0) scale(0.9,1)" font-size="9.4" fill="#231f20" text-anchor="end">300</text>
<rect x="205.5" y="330" width="18.8" height="20.8" fill="#2e4c7e"/>
<rect x="232.9" y="301.86" width="18.5" height="48.94" fill="#a1002a"/>
<line x1="242.15" y1="301.86" x2="242.15" y2="297.07" stroke="#231f20" stroke-width="1"/>
<line x1="240.55" y1="297.07" x2="243.75" y2="297.07" stroke="#231f20" stroke-width="1"/>
<polyline points="216.2,295.3 216.2,292.6 241.9,292.6 241.9,295.3" fill="none" stroke="#231f20" stroke-width="1.1"/>
<text x="213.8" y="290.1" font-size="8.8" fill="#231f20" textLength="33.4" lengthAdjust="spacingAndGlyphs">p=0.0035</text>
<text x="188.6" y="274.7" font-size="9.7" fill="#231f20" textLength="79.6" lengthAdjust="spacingAndGlyphs" stroke="#231f20" stroke-width="0.12">PAR1-AP (200μM)</text>
<text x="208" y="360.6" font-size="8.6" fill="#2f4f87" textLength="13.2" lengthAdjust="spacingAndGlyphs">WT</text>
<text x="227" y="360.6" font-size="8.6" fill="#b5123d" textLength="30.6" lengthAdjust="spacingAndGlyphs">GRK6-/-</text>
<text transform="translate(165,349.8) rotate(-90)" font-size="9.4" fill="#231f20" textLength="63.2" lengthAdjust="spacingAndGlyphs" stroke="#231f20" stroke-width="0.25">Fluorescence relative</text>
<text transform="translate(174.8,338) rotate(-90)" font-size="8.9" fill="#231f20" textLength="40.2" lengthAdjust="spacingAndGlyphs" stroke="#231f20" stroke-width="0.25">to control(%)</text>
<line x1="329.5" y1="285.6" x2="329.5" y2="351.2" stroke="#231f20" stroke-width="1.4"/>
<line x1="328.8" y1="350.6" x2="384.2" y2="350.6" stroke="#231f20" stroke-width="1.4"/>
<line x1="326.7" y1="350.6" x2="329.5" y2="350.6" stroke="#231f20" stroke-width="1.1"/>
<text transform="translate(323.6,353.5) rotate(0) scale(0.9,1)" font-size="9.4" fill="#231f20" text-anchor="end">0</text>
<line x1="326.7" y1="329.8" x2="329.5" y2="329.8" stroke="#231f20" stroke-width="1.1"/>
<text transform="translate(323.6,332.7) rotate(0) scale(0.9,1)" font-size="9.4" fill="#231f20" text-anchor="end">100</text>
<line x1="326.7" y1="309" x2="329.5" y2="309" stroke="#231f20" stroke-width="1.1"/>
<text transform="translate(323.6,311.9) rotate(0) scale(0.9,1)" font-size="9.4" fill="#231f20" text-anchor="end">200</text>
<line x1="326.7" y1="288.2" x2="329.5" y2="288.2" stroke="#231f20" stroke-width="1.1"/>
<text transform="translate(323.6,291.1) rotate(0) scale(0.9,1)" font-size="9.4" fill="#231f20" text-anchor="end">300</text>
<rect x="334.2" y="329.8" width="18.8" height="20.8" fill="#2e4c7e"/>
<rect x="361.3" y="325.56" width="18.7" height="25.04" fill="#a1002a"/>
<line x1="370.65" y1="325.56" x2="370.65" y2="322.31" stroke="#231f20" stroke-width="1"/>
<line x1="369.05" y1="322.31" x2="372.25" y2="322.31" stroke="#231f20" stroke-width="1"/>
<polyline points="344.4,320.1 344.4,317.3 369.9,317.3 369.9,320.1" fill="none" stroke="#231f20" stroke-width="1.1"/>
<text x="353.5" y="314.4" font-size="8.2" fill="#231f20" textLength="7.8" lengthAdjust="spacingAndGlyphs">ns</text>
<text x="322.4" y="275.3" font-size="9.7" fill="#231f20" textLength="69.6" lengthAdjust="spacingAndGlyphs" stroke="#231f20" stroke-width="0.12">PAR4-AP (1mM)</text>
<text x="336.9" y="360.6" font-size="8.6" fill="#2f4f87" textLength="12.8" lengthAdjust="spacingAndGlyphs">WT</text>
<text x="355.7" y="360.6" font-size="8.6" fill="#b5123d" textLength="31.6" lengthAdjust="spacingAndGlyphs">GRK6-/-</text>
<text transform="translate(292.6,350.3) rotate(-90)" font-size="9.4" fill="#231f20" textLength="63.5" lengthAdjust="spacingAndGlyphs" stroke="#231f20" stroke-width="0.25">Fluorescence relative</text>
<text transform="translate(304,338.8) rotate(-90)" font-size="8.9" fill="#231f20" textLength="40.5" lengthAdjust="spacingAndGlyphs" stroke="#231f20" stroke-width="0.25">to control(%)</text>
<line x1="454" y1="283.6" x2="454" y2="351.2" stroke="#231f20" stroke-width="1.4"/>
<line x1="453.3" y1="350.6" x2="507.3" y2="350.6" stroke="#231f20" stroke-width="1.4"/>
<line x1="451.2" y1="350.6" x2="454" y2="350.6" stroke="#231f20" stroke-width="1.1"/>
<text transform="translate(447.8,353.5) rotate(0) scale(0.9,1)" font-size="9.4" fill="#231f20" text-anchor="end">0</text>
<line x1="451.2" y1="329.2" x2="454" y2="329.2" stroke="#231f20" stroke-width="1.1"/>
<text transform="translate(447.8,332.1) rotate(0) scale(0.9,1)" font-size="9.4" fill="#231f20" text-anchor="end">100</text>
<line x1="451.2" y1="307.8" x2="454" y2="307.8" stroke="#231f20" stroke-width="1.1"/>
<text transform="translate(447.8,310.7) rotate(0) scale(0.9,1)" font-size="9.4" fill="#231f20" text-anchor="end">200</text>
<line x1="451.2" y1="286.4" x2="454" y2="286.4" stroke="#231f20" stroke-width="1.1"/>
<text transform="translate(447.8,289.3) rotate(0) scale(0.9,1)" font-size="9.4" fill="#231f20" text-anchor="end">300</text>
<rect x="458" y="329.2" width="18.8" height="21.4" fill="#2e4c7e"/>
<rect x="485" y="328.13" width="18.3" height="22.47" fill="#a1002a"/>
<line x1="494.15" y1="328.13" x2="494.15" y2="324.34" stroke="#231f20" stroke-width="1"/>
<line x1="492.55" y1="324.34" x2="495.75" y2="324.34" stroke="#231f20" stroke-width="1"/>
<polyline points="467.4,318.7 467.4,316.2 494.6,316.2 494.6,318.7" fill="none" stroke="#231f20" stroke-width="1.1"/>
<text x="477" y="312.9" font-size="8.2" fill="#231f20" textLength="7.9" lengthAdjust="spacingAndGlyphs">ns</text>
<text x="448.6" y="274.9" font-size="9.7" fill="#231f20" textLength="64.2" lengthAdjust="spacingAndGlyphs" stroke="#231f20" stroke-width="0.12">U46619 (5μM)</text>
<text x="460.7" y="360.6" font-size="8.6" fill="#2f4f87" textLength="12.6" lengthAdjust="spacingAndGlyphs">WT</text>
<text x="479.2" y="360.6" font-size="8.6" fill="#b5123d" textLength="30.8" lengthAdjust="spacingAndGlyphs">GRK6-/-</text>
<text transform="translate(416.8,348.7) rotate(-90)" font-size="9.4" fill="#231f20" textLength="63.9" lengthAdjust="spacingAndGlyphs" stroke="#231f20" stroke-width="0.25">Fluorescence relative</text>
<text transform="translate(427.4,337.2) rotate(-90)" font-size="8.9" fill="#231f20" textLength="40.2" lengthAdjust="spacingAndGlyphs" stroke="#231f20" stroke-width="0.25">to control(%)</text>
<line x1="72.9" y1="398.2" x2="72.9" y2="489" stroke="#231f20" stroke-width="1.4"/>
<line x1="72.2" y1="488.4" x2="203.5" y2="488.4" stroke="#231f20" stroke-width="1.4"/>
<line x1="70.1" y1="488.4" x2="72.9" y2="488.4" stroke="#231f20" stroke-width="1.1"/>
<text transform="translate(66.8,491.3) rotate(0) scale(0.9,1)" font-size="9.4" fill="#231f20" text-anchor="end">0</text>
<line x1="70.1" y1="470.9" x2="72.9" y2="470.9" stroke="#231f20" stroke-width="1.1"/>
<text transform="translate(66.8,473.8) rotate(0) scale(0.9,1)" font-size="9.4" fill="#231f20" text-anchor="end">20</text>
<line x1="70.1" y1="453.4" x2="72.9" y2="453.4" stroke="#231f20" stroke-width="1.1"/>
<text transform="translate(66.8,456.3) rotate(0) scale(0.9,1)" font-size="9.4" fill="#231f20" text-anchor="end">40</text>
<line x1="70.1" y1="435.9" x2="72.9" y2="435.9" stroke="#231f20" stroke-width="1.1"/>
<text transform="translate(66.8,438.8) rotate(0) scale(0.9,1)" font-size="9.4" fill="#231f20" text-anchor="end">60</text>
<line x1="70.1" y1="418.4" x2="72.9" y2="418.4" stroke="#231f20" stroke-width="1.1"/>
<text transform="translate(66.8,421.3) rotate(0) scale(0.9,1)" font-size="9.4" fill="#231f20" text-anchor="end">80</text>
<line x1="70.1" y1="400.9" x2="72.9" y2="400.9" stroke="#231f20" stroke-width="1.1"/>
<text transform="translate(66.8,403.8) rotate(0) scale(0.9,1)" font-size="9.4" fill="#231f20" text-anchor="end">100</text>
<rect x="85" y="433.27" width="16.8" height="55.12" fill="#2e4c7e"/>
<line x1="89.03" y1="433.57" x2="97.77" y2="433.57" stroke="#333" stroke-width="1"/>
<rect x="110" y="407.02" width="16.4" height="81.38" fill="#a1002a"/>
<line x1="113.94" y1="407.32" x2="122.46" y2="407.32" stroke="#333" stroke-width="1"/>
<rect x="150.6" y="466.52" width="17" height="21.88" fill="#2e4c7e"/>
<line x1="154.68" y1="466.82" x2="163.52" y2="466.82" stroke="#333" stroke-width="1"/>
<rect x="175.5" y="435.9" width="16.6" height="52.5" fill="#a1002a"/>
<line x1="179.48" y1="436.2" x2="188.12" y2="436.2" stroke="#333" stroke-width="1"/>
<polyline points="94.5,404.4 94.5,402 117.6,402 117.6,404.4" fill="none" stroke="#231f20" stroke-width="1.1"/>
<polyline points="160.2,430.6 160.2,428 183.8,428 183.8,430.6" fill="none" stroke="#231f20" stroke-width="1.1"/>
<text x="87.8" y="399.3" font-size="8.8" fill="#231f20" textLength="33.6" lengthAdjust="spacingAndGlyphs">p&lt;0.0001</text>
<text x="154.8" y="425" font-size="8.8" fill="#231f20" textLength="33.4" lengthAdjust="spacingAndGlyphs">p&lt;0.0001</text>
<text x="83.6" y="498.8" font-size="8.4" fill="#231f20" textLength="42.8" lengthAdjust="spacingAndGlyphs">unstimulated</text>
<text x="139.8" y="498.8" font-size="8.4" fill="#231f20" textLength="62.8" lengthAdjust="spacingAndGlyphs">thrombin(10U/ml)</text>
<text transform="translate(46,477.7) rotate(-90)" font-size="9.4" fill="#231f20" textLength="69.4" lengthAdjust="spacingAndGlyphs" stroke="#231f20" stroke-width="0.25">PAR1 expression (MFI)</text>
<rect x="218.9" y="404.8" width="10" height="5.5" fill="#2e4c7e"/>
<rect x="218.9" y="417.4" width="10" height="5.4" fill="#a1002a"/>
<text x="234" y="410.2" font-size="8.4" fill="#2f4f87" textLength="12.4" lengthAdjust="spacingAndGlyphs">WT</text>
<text x="234" y="422.8" font-size="8.4" fill="#b5123d" textLength="29.6" lengthAdjust="spacingAndGlyphs">GRK6-/-</text>
<line x1="342.85" y1="398.2" x2="342.85" y2="489" stroke="#231f20" stroke-width="1.4"/>
<line x1="342.15" y1="488.4" x2="401.5" y2="488.4" stroke="#231f20" stroke-width="1.4"/>
<line x1="340.05" y1="488.4" x2="342.85" y2="488.4" stroke="#231f20" stroke-width="1.1"/>
<text transform="translate(336.4,491.3) rotate(0) scale(0.9,1)" font-size="9.4" fill="#231f20" text-anchor="end">0</text>
<line x1="340.05" y1="470.9" x2="342.85" y2="470.9" stroke="#231f20" stroke-width="1.1"/>
<text transform="translate(336.4,473.8) rotate(0) scale(0.9,1)" font-size="9.4" fill="#231f20" text-anchor="end">20%</text>
<line x1="340.05" y1="453.4" x2="342.85" y2="453.4" stroke="#231f20" stroke-width="1.1"/>
<text transform="translate(336.4,456.3) rotate(0) scale(0.9,1)" font-size="9.4" fill="#231f20" text-anchor="end">40%</text>
<line x1="340.05" y1="435.9" x2="342.85" y2="435.9" stroke="#231f20" stroke-width="1.1"/>
<text transform="translate(336.4,438.8) rotate(0) scale(0.9,1)" font-size="9.4" fill="#231f20" text-anchor="end">60%</text>
<line x1="340.05" y1="418.4" x2="342.85" y2="418.4" stroke="#231f20" stroke-width="1.1"/>
<text transform="translate(336.4,421.3) rotate(0) scale(0.9,1)" font-size="9.4" fill="#231f20" text-anchor="end">80%</text>
<line x1="340.05" y1="400.9" x2="342.85" y2="400.9" stroke="#231f20" stroke-width="1.1"/>
<text transform="translate(336.4,403.8) rotate(0) scale(0.9,1)" font-size="9.4" fill="#231f20" text-anchor="end">100%</text>
<rect x="347" y="435.02" width="20" height="53.38" fill="#2e4c7e"/>
<line x1="351.8" y1="435.32" x2="362.2" y2="435.32" stroke="#333" stroke-width="1"/>
<rect x="376.3" y="456.9" width="20.6" height="31.5" fill="#a1002a"/>
<line x1="381.24" y1="457.2" x2="391.96" y2="457.2" stroke="#333" stroke-width="1"/>
<polyline points="363.0,424.0 363.0,421.7 389.2,421.7 389.2,424.0" fill="none" stroke="#231f20" stroke-width="1.1"/>
<text x="357.8" y="420" font-size="8.8" fill="#231f20" textLength="33.6" lengthAdjust="spacingAndGlyphs">p&lt;0.0001</text>
<text x="350.6" y="498.6" font-size="8.6" fill="#2f4f87" textLength="13.2" lengthAdjust="spacingAndGlyphs">WT</text>
<text x="371.2" y="498.6" font-size="8.6" fill="#b5123d" textLength="30" lengthAdjust="spacingAndGlyphs">GRK6-/-</text>
<text transform="translate(308.4,491.1) rotate(-90)" font-size="9.4" fill="#231f20" textLength="96.4" lengthAdjust="spacingAndGlyphs" stroke="#231f20" stroke-width="0.25">% decrease in PAR1 expression</text>
</svg>
</body></html>
